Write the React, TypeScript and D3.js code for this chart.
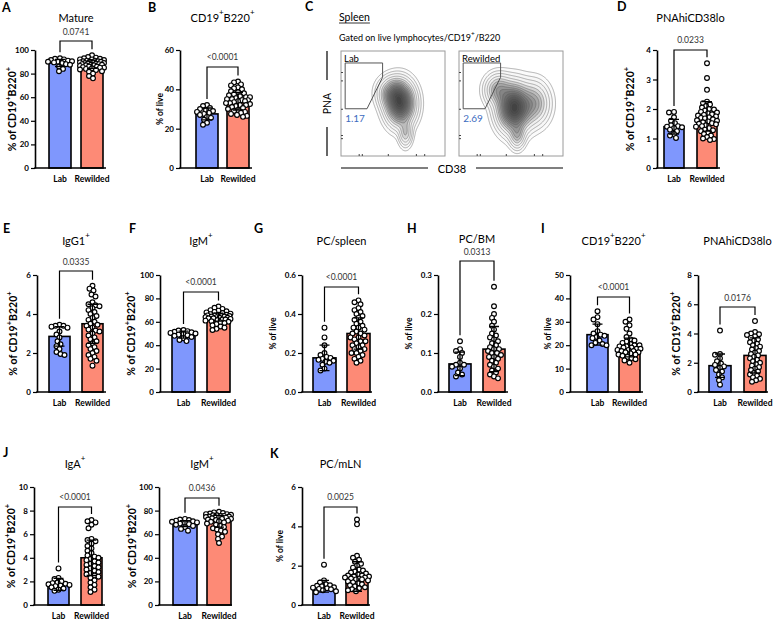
import React, { useEffect, useRef } from "react";
import * as d3 from "d3";

const FONT = "Lato, 'Open Sans', sans-serif";

const groups = ["Lab", "Rewilded"];
const groupColors = ["#7f97fd", "#fd8a76"];

// A - Mature
const matureLab = [93, 92.5, 92, 91.5, 91, 90.5, 90, 90, 89.5, 89, 88, 87.5, 86, 84, 82];
const matureRew = [95.5, 94, 93.5, 93, 92.5, 92, 92, 91.5, 91, 91, 90.5, 90.5, 90, 90, 89.5, 89.5, 89, 89, 88.5, 88.5, 88, 88, 87.5, 87.5, 87, 87, 86.5, 86, 86, 85.5, 85, 85, 84.5, 84, 83.5, 83, 82, 81.5, 80, 78, 76];
const matureMean = [89, 88];
const matureSd = [3, 3.5];

// B - CD19+B220+ spleen
const cd19Lab = [32, 31.5, 30.5, 30, 29.5, 29, 28.5, 28, 27.5, 27, 26, 25.5, 24.5, 23, 22];
const cd19Rew = [44, 43.5, 42.5, 42, 41, 40.5, 40, 39, 38.5, 38, 37.5, 37, 36.5, 36, 36, 35.5, 35, 35, 34.5, 34.5, 34, 34, 33.5, 33, 33, 32.5, 32, 32, 31.5, 31, 30.5, 30, 29.5, 29, 28.5, 28, 27.5, 27, 26.5, 26];
const cd19Mean = [27.5, 34];
const cd19Sd = [3, 4.5];

// D - PNAhiCD38lo spleen
const gcLab = [1.9, 1.88, 1.72, 1.6, 1.52, 1.45, 1.42, 1.4, 1.38, 1.35, 1.3, 1.25, 1.15, 1.1, 1.02];
const gcRew = [3.55, 3.05, 2.65, 2.25, 2.2, 2.15, 2.1, 2.05, 2.0, 1.98, 1.95, 1.9, 1.88, 1.85, 1.82, 1.8, 1.78, 1.75, 1.72, 1.7, 1.68, 1.65, 1.62, 1.6, 1.58, 1.55, 1.52, 1.5, 1.48, 1.45, 1.42, 1.4, 1.35, 1.3, 1.28, 1.25, 1.2, 1.15, 1.1, 1.05, 1.0, 0.98, 0.95];
const gcMean = [1.4, 1.75];
const gcSd = [0.25, 0.5];

// E - IgG1+
const igg1Lab = [3.45, 3.4, 3.4, 3.35, 3.3, 3.1, 2.95, 2.8, 2.6, 2.45, 2.35, 2.2, 2.05, 1.95, 1.9];
const igg1Rew = [5.45, 5.3, 5.2, 5.0, 4.9, 4.6, 4.5, 4.45, 4.4, 4.3, 4.2, 4.1, 4.0, 3.9, 3.8, 3.7, 3.6, 3.5, 3.45, 3.4, 3.3, 3.2, 3.15, 3.1, 3.0, 2.9, 2.8, 2.7, 2.6, 2.5, 2.4, 2.3, 2.2, 2.1, 2.0, 1.9, 1.8, 1.7, 1.6, 1.35];
const igg1Mean = [2.85, 3.5];
const igg1Sd = [0.5, 1.0];

// F - IgM+ spleen
const igmLab = [53, 52.5, 52, 51.5, 51, 50.5, 50, 49.5, 49, 48.5, 48, 47, 46, 44.5, 43.5];
const igmRew = [73, 72, 71, 70, 69.5, 69, 68.5, 68, 67.5, 67, 66.5, 66, 66, 65.5, 65.5, 65, 65, 64.5, 64.5, 64, 64, 63.5, 63.5, 63, 63, 62.5, 62, 62, 61.5, 61, 60.5, 60, 59.5, 59, 58, 57, 56, 55, 54, 53];
const igmMean = [49, 64];
const igmSd = [3, 3.5];

// G - PC/spleen
const pcSpleenLab = [0.33, 0.28, 0.24, 0.2, 0.19, 0.18, 0.175, 0.17, 0.165, 0.16, 0.155, 0.15, 0.14, 0.12, 0.11];
const pcSpleenRew = [0.47, 0.46, 0.45, 0.43, 0.42, 0.41, 0.4, 0.39, 0.38, 0.37, 0.36, 0.35, 0.34, 0.33, 0.33, 0.32, 0.31, 0.3, 0.3, 0.29, 0.28, 0.28, 0.27, 0.26, 0.26, 0.25, 0.24, 0.24, 0.23, 0.22, 0.22, 0.21, 0.2, 0.2, 0.19, 0.18, 0.17, 0.16, 0.15];
const pcSpleenMean = [0.175, 0.3];
const pcSpleenSd = [0.065, 0.08];

// H - PC/BM
const pcBmLab = [0.13, 0.11, 0.105, 0.1, 0.09, 0.075, 0.07, 0.07, 0.065, 0.06, 0.05, 0.045, 0.04];
const pcBmRew = [0.27, 0.22, 0.2, 0.19, 0.18, 0.17, 0.16, 0.15, 0.145, 0.14, 0.135, 0.13, 0.125, 0.12, 0.115, 0.11, 0.11, 0.105, 0.1, 0.1, 0.095, 0.09, 0.09, 0.085, 0.08, 0.075, 0.07, 0.065, 0.06, 0.055, 0.05, 0.045, 0.04, 0.035];
const pcBmMean = [0.072, 0.11];
const pcBmSd = [0.03, 0.058];

// I - mLN CD19+B220+ and PNAhiCD38lo
const mlnCd19Lab = [34.5, 32, 31, 29, 26, 25, 24.5, 24, 23.5, 23, 22, 21, 20.5, 20, 20];
const mlnCd19Rew = [31, 30, 28.5, 27, 25, 23.5, 22.5, 22, 21.5, 21, 20.5, 20, 20, 19.5, 19.5, 19, 19, 18.5, 18.5, 18, 18, 17.5, 17.5, 17, 17, 16.5, 16, 16, 15.5, 15, 14.5, 14, 13.5, 12.5];
const mlnCd19Mean = [24.5, 19];
const mlnCd19Sd = [4.5, 4];

const mlnGcLab = [4.2, 2.6, 2.55, 2.3, 2.1, 1.95, 1.85, 1.75, 1.65, 1.5, 1.4, 1.2, 1.0, 0.8, 0.5];
const mlnGcRew = [4.85, 4.1, 4.0, 3.95, 3.9, 3.8, 3.7, 3.6, 3.5, 3.4, 3.3, 3.2, 3.1, 3.0, 2.9, 2.8, 2.7, 2.6, 2.5, 2.4, 2.3, 2.2, 2.1, 2.0, 1.9, 1.8, 1.7, 1.6, 1.5, 1.4, 1.3, 1.2, 1.1, 1.0, 0.9, 0.8, 0.7];
const mlnGcMean = [1.8, 2.5];
const mlnGcSd = [0.8, 1.2];

// J - IgA+ and IgM+ mLN
const igaLab = [3.1, 2.3, 2.2, 2.0, 1.9, 1.85, 1.8, 1.75, 1.7, 1.65, 1.6, 1.5, 1.4, 1.3, 1.2];
const igaRew = [7.2, 7.1, 7.0, 6.8, 6.5, 5.6, 5.5, 5.4, 5.2, 5.0, 4.8, 4.6, 4.4, 4.2, 4.1, 4.0, 3.9, 3.8, 3.7, 3.6, 3.5, 3.4, 3.3, 3.2, 3.1, 3.0, 2.9, 2.8, 2.7, 2.6, 2.5, 2.4, 2.3, 2.1, 1.9, 1.7, 1.5, 1.3, 1.1];
const igaMean = [1.75, 4.0];
const igaSd = [0.5, 1.5];

const mlnIgmLab = [73, 72.5, 72, 71.5, 71, 70.5, 70, 69.5, 69, 68.5, 68, 67, 66, 64.5, 63];
const mlnIgmRew = [79, 78.5, 78, 77.5, 77, 77, 76.5, 76, 76, 75.5, 75.5, 75, 75, 74.5, 74.5, 74, 74, 73.5, 73, 73, 72.5, 72, 71.5, 71, 70.5, 70, 69, 68, 67, 66, 65, 64, 63, 62, 60, 58, 56, 52.5];
const mlnIgmMean = [69, 71];
const mlnIgmSd = [2.5, 5];

// K - PC/mLN
const pcMlnLab = [2.05, 1.25, 1.15, 1.05, 1.0, 0.98, 0.95, 0.9, 0.88, 0.85, 0.82, 0.8, 0.75, 0.7, 0.65];
const pcMlnRew = [4.35, 4.1, 2.5, 2.4, 2.3, 2.2, 2.1, 2.0, 1.9, 1.8, 1.75, 1.7, 1.65, 1.6, 1.55, 1.5, 1.5, 1.45, 1.45, 1.4, 1.4, 1.35, 1.35, 1.3, 1.3, 1.25, 1.2, 1.15, 1.1, 1.05, 1.0, 0.95, 0.9, 0.85, 0.8, 0.75, 0.7];
const pcMlnMean = [0.95, 1.45];
const pcMlnSd = [0.3, 0.75];

// C - flow plots: populations as [CD38, PNA, sdCD38, sdPNA, weight] on 0..1 log axes
const labPopulation = [
  [0.57, 0.5, 0.075, 0.11, 1],
  [0.5, 0.6, 0.075, 0.08, 0.4],
  [0.62, 0.22, 0.035, 0.07, 0.22],
];
const rewPopulation = [
  [0.53, 0.46, 0.085, 0.12, 1],
  [0.38, 0.63, 0.07, 0.08, 0.3],
  [0.56, 0.2, 0.04, 0.07, 0.22],
  [0.72, 0.5, 0.08, 0.11, 0.3],
];
const gatePolygon = [[0.04, 0.886], [0.4, 0.886], [0.4, 0.75], [0.25, 0.45], [0.04, 0.45]];
const gateValues = ["1.17", "2.69"];
const contourLevels = [0.01, 0.025, 0.05, 0.09, 0.14, 0.2, 0.26, 0.33, 0.4, 0.47, 0.55, 0.63, 0.71, 0.79, 0.87, 0.94];
const flowTickValues = [0.17, 0.2, 0.45, 0.72, 0.8];

const pctLabel: [string, boolean][] = [["% of CD19", false], ["+", true], ["B220", false], ["+", true]];
const liveLabel: [string, boolean][] = [["% of live", false]];
const fmtInt = d3.format("d");
const fmt1 = d3.format(".1f");

const panels = [
  { letter: "A", lx: 2, ly: 12, title: [["Mature", false]], titleY: 17, p: "0.0741", pY: 32, brY: 41, axisX: 35, axisEnd: 106, top: 50, bottom: 168, bx: 49, bw: 22, gap: 10, max: 100, ticks: [0, 20, 40, 60, 80, 100], fmt: fmtInt, yLabel: pctLabel, ylX: 12, lab: matureLab, rew: matureRew, mean: matureMean, sd: matureSd },
  { letter: "B", lx: 148, ly: 12, title: [["CD19", false], ["+", true], ["B220", false], ["+", true]], titleY: 17, p: "<0.0001", pY: 57, brY: 67, axisX: 180, axisEnd: 252, top: 50, bottom: 168, bx: 196, bw: 22, gap: 9, max: 60, ticks: [0, 20, 40, 60], fmt: fmtInt, yLabel: liveLabel, ylX: 160, lab: cd19Lab, rew: cd19Rew, mean: cd19Mean, sd: cd19Sd },
  { letter: "D", lx: 617, ly: 11, title: [["PNAhiCD38lo", false]], titleY: 17, p: "0.0233", pY: 40, brY: 50, axisX: 657, axisEnd: 720, top: 50, bottom: 168, bx: 664, bw: 20, gap: 13, max: 4, ticks: [0, 1, 2, 3, 4], fmt: fmtInt, yLabel: pctLabel, ylX: 630, lab: gcLab, rew: gcRew, mean: gcMean, sd: gcSd },
  { letter: "E", lx: 3, ly: 233, title: [["IgG1", false], ["+", true]], titleY: 240, p: "0.0335", pY: 262, brY: 271, axisX: 37, axisEnd: 106, top: 275, bottom: 392, bx: 49, bw: 21, gap: 12, max: 6, ticks: [0, 2, 4, 6], fmt: fmtInt, yLabel: pctLabel, ylX: 13, lab: igg1Lab, rew: igg1Rew, mean: igg1Mean, sd: igg1Sd },
  { letter: "F", lx: 129, ly: 233, title: [["IgM", false], ["+", true]], titleY: 240, p: "<0.0001", pY: 282, brY: 292, axisX: 160, axisEnd: 230, top: 275, bottom: 392, bx: 172, bw: 23, gap: 12, max: 100, ticks: [0, 20, 40, 60, 80, 100], fmt: fmtInt, yLabel: pctLabel, ylX: 131, lab: igmLab, rew: igmRew, mean: igmMean, sd: igmSd },
  { letter: "G", lx: 254, ly: 233, title: [["PC/spleen", false]], titleY: 240, p: "<0.0001", pY: 277, brY: 287, axisX: 302, axisEnd: 372, top: 275, bottom: 392, bx: 313, bw: 23, gap: 11, max: 0.6, ticks: [0, 0.2, 0.4, 0.6], fmt: fmt1, yLabel: liveLabel, ylX: 273, lab: pcSpleenLab, rew: pcSpleenRew, mean: pcSpleenMean, sd: pcSpleenSd },
  { letter: "H", lx: 407, ly: 233, title: [["PC/BM", false]], titleY: 238, p: "0.0313", pY: 252, brY: 261, axisX: 438, axisEnd: 508, top: 275, bottom: 392, bx: 449, bw: 22, gap: 12, max: 0.3, ticks: [0, 0.1, 0.2, 0.3], fmt: fmt1, yLabel: liveLabel, ylX: 409, lab: pcBmLab, rew: pcBmRew, mean: pcBmMean, sd: pcBmSd },
  { letter: "I", lx: 541, ly: 233, title: [["CD19", false], ["+", true], ["B220", false], ["+", true]], titleY: 240, p: "<0.0001", pY: 287, brY: 297, axisX: 570, axisEnd: 643, top: 275, bottom: 392, bx: 587, bw: 21, gap: 11, max: 50, ticks: [0, 10, 20, 30, 40, 50], fmt: fmtInt, yLabel: liveLabel, ylX: 548, lab: mlnCd19Lab, rew: mlnCd19Rew, mean: mlnCd19Mean, sd: mlnCd19Sd },
  { letter: "", lx: 0, ly: 0, title: [["PNAhiCD38lo", false]], titleY: 240, p: "0.0176", pY: 298, brY: 307, axisX: 698, axisEnd: 768, top: 275, bottom: 392, bx: 709, bw: 22, gap: 13, max: 8, ticks: [0, 2, 4, 6, 8], fmt: fmtInt, yLabel: pctLabel, ylX: 676, lab: mlnGcLab, rew: mlnGcRew, mean: mlnGcMean, sd: mlnGcSd },
  { letter: "J", lx: 3, ly: 457, title: [["IgA", false], ["+", true]], titleY: 463, p: "<0.0001", pY: 497, brY: 507, axisX: 34, axisEnd: 105, top: 487, bottom: 605, bx: 48, bw: 21, gap: 12, max: 10, ticks: [0, 2, 4, 6, 8, 10], fmt: fmtInt, yLabel: pctLabel, ylX: 11, lab: igaLab, rew: igaRew, mean: igaMean, sd: igaSd },
  { letter: "", lx: 0, ly: 0, title: [["IgM", false], ["+", true]], titleY: 463, p: "0.0436", pY: 488, brY: 498, axisX: 159, axisEnd: 232, top: 487, bottom: 605, bx: 173, bw: 24, gap: 10, max: 100, ticks: [0, 20, 40, 60, 80, 100], fmt: fmtInt, yLabel: pctLabel, ylX: 132, lab: mlnIgmLab, rew: mlnIgmRew, mean: mlnIgmMean, sd: mlnIgmSd },
  { letter: "K", lx: 270, ly: 458, title: [["PC/mLN", false]], titleY: 463, p: "0.0025", pY: 497, brY: 507, axisX: 302, axisEnd: 370, top: 487, bottom: 605, bx: 313, bw: 22, gap: 11, max: 6, ticks: [0, 2, 4, 6], fmt: fmtInt, yLabel: liveLabel, ylX: 280, lab: pcMlnLab, rew: pcMlnRew, mean: pcMlnMean, sd: pcMlnSd },
];

const R = 2.4;

function rich(sel: any, parts: any[], size: number) {
  parts.forEach(([t, sup]: [string, boolean], i: number) => {
    const prevSup = i > 0 && parts[i - 1][1];
    const ts = sel.append("tspan").text(t);
    if (sup) ts.attr("dy", -size * 0.42).attr("font-size", size * 0.72);
    else if (prevSup) ts.attr("dy", size * 0.42);
  });
}

function swarm(vals: number[], y: any, cx: number, maxOff: number) {
  const placed: [number, number][] = [];
  const order = vals.map((v) => y(v)).sort((a, b) => a - b);
  const minD = R * 1.7;
  order.forEach((py) => {
    let bestX = cx;
    let bestD = -1;
    for (let k = 0; k <= maxOff * 2; k++) {
      const off = k % 2 === 0 ? k / 2 : -(k + 1) / 2;
      const px = cx + off;
      let d = Infinity;
      placed.forEach(([qx, qy]) => {
        d = Math.min(d, Math.hypot(px - qx, py - qy));
      });
      if (d >= minD) {
        bestX = px;
        break;
      }
      if (d > bestD) {
        bestD = d;
        bestX = px;
      }
    }
    placed.push([bestX, py]);
  });
  return placed;
}

function drawPanel(svg: any, p: any) {
  const g = svg.append("g");
  const y = d3.scaleLinear().domain([0, p.max]).range([p.bottom, p.top]);
  const x = d3
    .scaleBand()
    .domain(groups)
    .range([p.bx, p.bx + 2 * p.bw + p.gap])
    .paddingInner(p.gap / (p.bw + p.gap))
    .paddingOuter(0);
  const cx = (k: string) => (x(k) as number) + x.bandwidth() / 2;
  const series = [p.lab, p.rew];

  groups.forEach((grp, i) => {
    g.append("rect")
      .attr("x", x(grp))
      .attr("y", y(p.mean[i]))
      .attr("width", x.bandwidth())
      .attr("height", y(0) - y(p.mean[i]))
      .attr("fill", groupColors[i])
      .attr("stroke", "#000")
      .attr("stroke-width", 1.6);
  });

  series.forEach((vals: number[], i: number) => {
    const pts = swarm(vals, y, cx(groups[i]), x.bandwidth() / 2 + 1);
    g.append("g")
      .selectAll("circle")
      .data(pts)
      .enter()
      .append("circle")
      .attr("cx", (d: number[]) => d[0])
      .attr("cy", (d: number[]) => d[1])
      .attr("r", R)
      .attr("fill", "#fff")
      .attr("stroke", "#000")
      .attr("stroke-width", 1.15);
  });

  groups.forEach((grp, i) => {
    const c = cx(grp);
    const hi = y(p.mean[i] + p.sd[i]);
    const lo = y(Math.max(0, p.mean[i] - p.sd[i]));
    g.append("path")
      .attr("d", `M${c},${lo}V${hi}M${c - 5},${hi}H${c + 5}M${c - 5},${lo}H${c + 5}`)
      .attr("stroke", "#000")
      .attr("stroke-width", 1.3)
      .attr("fill", "none");
  });

  const ax = g
    .append("g")
    .attr("transform", `translate(${p.axisX},0)`)
    .call(d3.axisLeft(y).tickValues(p.ticks).tickFormat(p.fmt).tickSize(4).tickSizeOuter(0));
  ax.attr("font-family", FONT).attr("font-size", 8).attr("font-weight", "bold");
  ax.select(".domain").attr("stroke-width", 1.6);
  ax.selectAll(".tick line").attr("stroke-width", 1.2);
  ax.selectAll(".tick text").attr("x", -6);

  g.append("line")
    .attr("x1", p.axisX - 0.8)
    .attr("x2", p.axisEnd)
    .attr("y1", y(0))
    .attr("y2", y(0))
    .attr("stroke", "#000")
    .attr("stroke-width", 1.6);

  groups.forEach((grp) => {
    g.append("text")
      .attr("x", cx(grp))
      .attr("y", y(0) + 10.5)
      .attr("text-anchor", "middle")
      .attr("dominant-baseline", "central")
      .attr("font-size", 8.5)
      .attr("font-weight", "bold")
      .text(grp);
  });

  const midY = (p.top + p.bottom) / 2;
  const ylSize = p.yLabel === pctLabel ? 10.5 : 8.5;
  const yl = g
    .append("text")
    .attr("transform", `translate(${p.ylX},${midY}) rotate(-90)`)
    .attr("text-anchor", "middle")
    .attr("dominant-baseline", "central")
    .attr("font-size", ylSize)
    .attr("font-weight", "bold");
  rich(yl, p.yLabel, ylSize);

  const c0 = cx(groups[0]);
  const c1 = cx(groups[1]);
  const mid = (c0 + c1) / 2;
  const t = g
    .append("text")
    .attr("x", mid)
    .attr("y", p.titleY)
    .attr("text-anchor", "middle")
    .attr("dominant-baseline", "central")
    .attr("font-size", 11);
  rich(t, p.title, 11);

  g.append("text")
    .attr("x", mid)
    .attr("y", p.pY)
    .attr("text-anchor", "middle")
    .attr("dominant-baseline", "central")
    .attr("font-size", 8.5)
    .attr("fill", "#333")
    .text(p.p);

  const legEnd = (i: number) =>
    Math.max(p.brY + 4, y(Math.max(d3.max(series[i] as number[]) as number, p.mean[i] + p.sd[i])) - 6);
  g.append("path")
    .attr("d", `M${c0},${legEnd(0)}V${p.brY}H${c1}V${legEnd(1)}`)
    .attr("fill", "none")
    .attr("stroke", "#000")
    .attr("stroke-width", 1.2);

  if (p.letter) {
    g.append("text")
      .attr("x", p.lx)
      .attr("y", p.ly)
      .attr("font-size", 12.5)
      .attr("font-weight", "bold")
      .text(p.letter);
  }
}

function drawFlow(svg: any) {
  const g = svg.append("g");
  const FT = 51;
  const FB = 156;
  const FW = 104;
  const FH = FB - FT;
  const boxes = [
    { name: "Lab", x0: 341, pop: labPopulation, gate: gateValues[0] },
    { name: "Rewilded", x0: 459, pop: rewPopulation, gate: gateValues[1] },
  ];

  g.append("text").attr("x", 305).attr("y", 11).attr("font-size", 12.5).attr("font-weight", "bold").text("C");
  const sp = g
    .append("text")
    .attr("x", 339)
    .attr("y", 17)
    .attr("dominant-baseline", "central")
    .attr("font-size", 10.5)
    .text("Spleen");
  const spW = (sp.node() as SVGTextElement).getComputedTextLength();
  g.append("line").attr("x1", 339).attr("x2", 339 + spW).attr("y1", 23).attr("y2", 23).attr("stroke", "#000").attr("stroke-width", 0.8);

  const gt = g
    .append("text")
    .attr("x", 339)
    .attr("y", 37)
    .attr("dominant-baseline", "central")
    .attr("font-size", 9);
  rich(gt, [["Gated on live lymphocytes/CD19", false], ["+", true], ["/B220", false]], 9);

  boxes.forEach((b) => {
    const fx = d3.scaleLinear().domain([0, 1]).range([b.x0, b.x0 + FW]);
    const fy = d3.scaleLinear().domain([0, 1]).range([FB, FT]);
    const nx = 104;
    const ny = 105;
    const values: number[] = new Array(nx * ny);
    for (let j = 0; j < ny; j++) {
      for (let i = 0; i < nx; i++) {
        const xv = (i + 0.5) / nx;
        const yv = 1 - (j + 0.5) / ny;
        values[j * nx + i] = d3.sum(b.pop, (c) =>
          c[4] * Math.exp(-((xv - c[0]) ** 2) / (2 * c[2] ** 2) - ((yv - c[1]) ** 2) / (2 * c[3] ** 2))
        );
      }
    }
    const mx = d3.max(values) as number;
    const contours = d3.contours().size([nx, ny]).thresholds(contourLevels.map((l) => l * mx))(values);
    g.append("g")
      .attr("transform", `translate(${b.x0},${FT}) scale(${FW / nx},${FH / ny})`)
      .selectAll("path")
      .data(contours)
      .enter()
      .append("path")
      .attr("d", d3.geoPath())
      .attr("fill", "#1e1e1e")
      .attr("fill-opacity", (d: any) => (d.value > 0.12 * mx ? 0.13 : 0.02))
      .attr("stroke", "#5a5a5a")
      .attr("stroke-opacity", 0.9)
      .attr("stroke-width", 0.5)
      .attr("vector-effect", "non-scaling-stroke");

    g.append("rect")
      .attr("x", b.x0)
      .attr("y", FT)
      .attr("width", FW)
      .attr("height", FH)
      .attr("fill", "none")
      .attr("stroke", "#9a9a9a")
      .attr("stroke-width", 1);

    g.append("g")
      .attr("transform", `translate(${b.x0},0)`)
      .call(d3.axisLeft(fy).tickValues(flowTickValues).tickSize(-2).tickFormat(() => ""))
      .call((s: any) => s.select(".domain").remove())
      .selectAll("line")
      .attr("stroke", "#444");
    g.append("g")
      .attr("transform", `translate(0,${FB})`)
      .call(d3.axisBottom(fx).tickValues(flowTickValues).tickSize(-2).tickFormat(() => ""))
      .call((s: any) => s.select(".domain").remove())
      .selectAll("line")
      .attr("stroke", "#444");

    const line = d3.line();
    g.append("path")
      .attr("d", line(gatePolygon.map(([a, c]) => [fx(a), fy(c)]) as [number, number][]) + "Z")
      .attr("fill", "none")
      .attr("stroke", "#555")
      .attr("stroke-width", 1);

    g.append("text")
      .attr("x", b.x0 + 3)
      .attr("y", FT + 7)
      .attr("dominant-baseline", "central")
      .attr("font-size", 9.5)
      .text(b.name);
    g.append("text")
      .attr("x", fx(0.04))
      .attr("y", FT + 67)
      .attr("dominant-baseline", "central")
      .attr("font-size", 10)
      .attr("fill", "#3d6cc0")
      .text(b.gate);
  });

  // axis names with rules
  g.append("line").attr("x1", 327).attr("x2", 327).attr("y1", FT).attr("y2", 80).attr("stroke", "#000").attr("stroke-width", 1.2);
  g.append("line").attr("x1", 327).attr("x2", 327).attr("y1", 127).attr("y2", FB).attr("stroke", "#000").attr("stroke-width", 1.2);
  g.append("text")
    .attr("transform", `translate(327,${(FT + FB) / 2}) rotate(-90)`)
    .attr("text-anchor", "middle")
    .attr("dominant-baseline", "central")
    .attr("font-size", 10.5)
    .text("PNA");
  g.append("line").attr("x1", 341).attr("x2", 428).attr("y1", 168).attr("y2", 168).attr("stroke", "#000").attr("stroke-width", 1.2);
  g.append("line").attr("x1", 476).attr("x2", 563).attr("y1", 168).attr("y2", 168).attr("stroke", "#000").attr("stroke-width", 1.2);
  g.append("text")
    .attr("x", 452)
    .attr("y", 168)
    .attr("text-anchor", "middle")
    .attr("dominant-baseline", "central")
    .attr("font-size", 11)
    .text("CD38");
}

export default function App() {
  const ref = useRef<SVGSVGElement>(null);

  useEffect(() => {
    const svg = d3.select(ref.current);
    svg.selectAll("*").remove();
    panels.forEach((p) => drawPanel(svg, p));
    drawFlow(svg);
  }, []);

  return (
    <svg
      ref={ref}
      width={778}
      height={620}
      fontFamily={FONT}
      style={{ position: "absolute", left: 0, top: 0, background: "#fff" }}
    />
  );
}
